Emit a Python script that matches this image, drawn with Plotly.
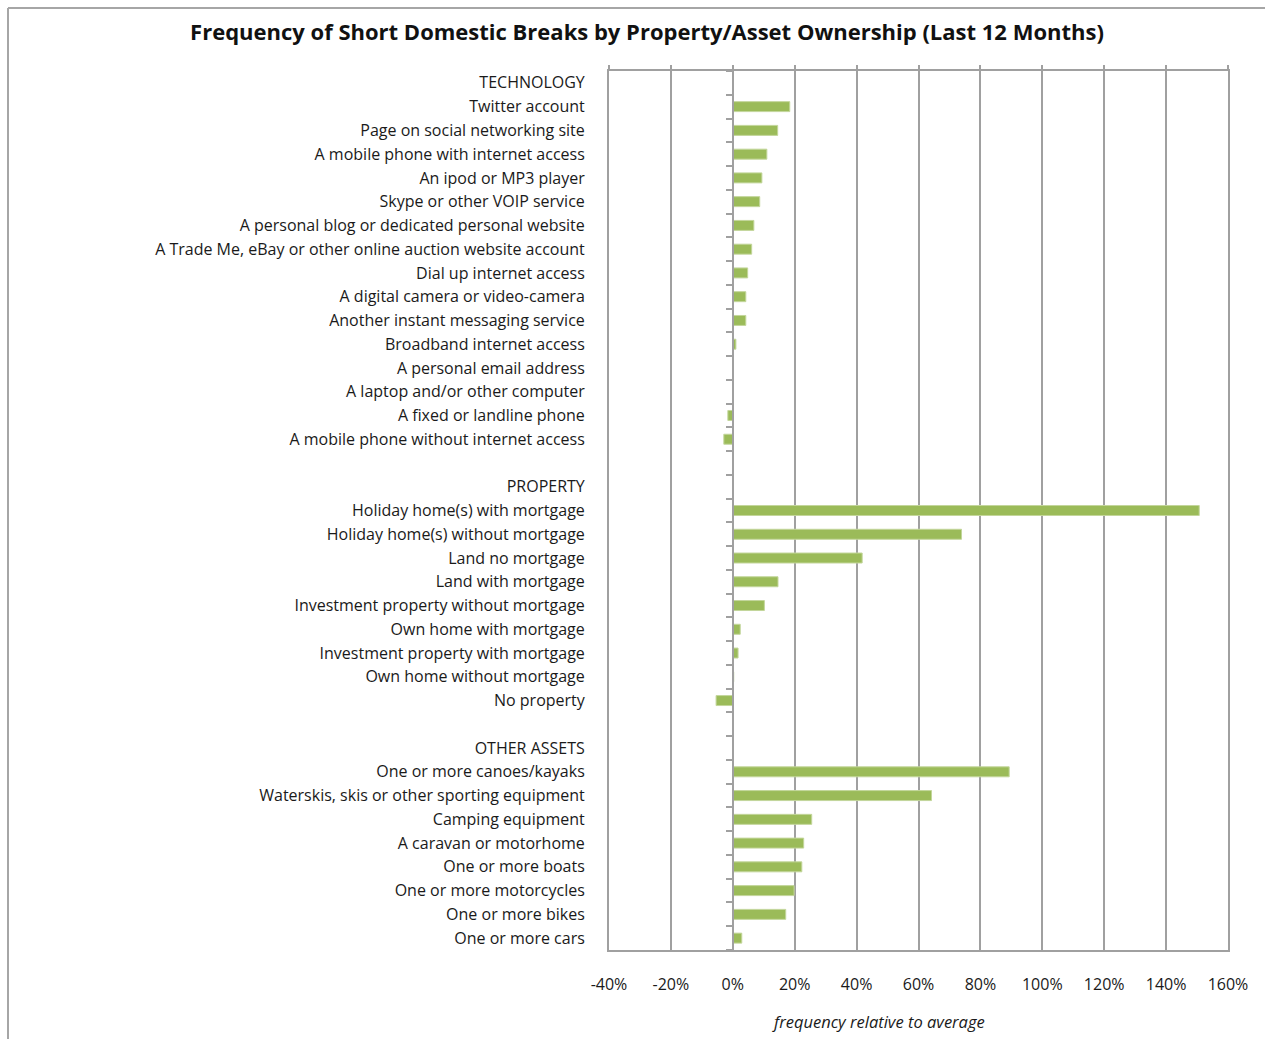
import plotly.graph_objects as go

# ---- data ----
categories = [
    "TECHNOLOGY",
    "Twitter account",
    "Page on social networking site",
    "A mobile phone with internet access",
    "An ipod or MP3 player",
    "Skype or other VOIP service",
    "A personal blog or dedicated personal website",
    "A Trade Me, eBay or other online auction website account",
    "Dial up internet access",
    "A digital camera or video-camera",
    "Another instant messaging service",
    "Broadband internet access",
    "A personal email address",
    "A laptop and/or other computer",
    "A fixed or landline phone",
    "A mobile phone without internet access",
    "",
    "PROPERTY",
    "Holiday home(s) with mortgage",
    "Holiday home(s) without mortgage",
    "Land no mortgage",
    "Land with mortgage",
    "Investment property without mortgage",
    "Own home with mortgage",
    "Investment property with mortgage",
    "Own home without mortgage",
    "No property",
    "",
    "OTHER ASSETS",
    "One or more canoes/kayaks",
    "Waterskis, skis or other sporting equipment",
    "Camping equipment",
    "A caravan or motorhome",
    "One or more boats",
    "One or more motorcycles",
    "One or more bikes",
    "One or more cars",
]
values = [
    None,
    18.4, 14.5, 11.0, 9.4, 8.7, 6.8, 6.1, 4.8, 4.2, 4.2, 1.0, 0.2, 0.1, -1.6, -2.9,
    None,
    None,
    150.7, 73.9, 41.8, 14.6, 10.2, 2.4, 1.7, 0.3, -5.4,
    None,
    None,
    89.3, 64.2, 25.5, 22.9, 22.3, 19.8, 17.1, 2.9,
]
x_ticks = [-40, -20, 0, 20, 40, 60, 80, 100, 120, 140, 160]
x_tick_labels = ["-40%", "-20%", "0%", "20%", "40%", "60%", "80%", "100%", "120%", "140%", "160%"]

title_text = "Frequency of Short Domestic Breaks by Property/Asset Ownership (Last 12 Months)"
x_title = "frequency relative to average"

# ---- figure ----
positions = list(range(len(categories)))
boundaries = [p - 0.5 for p in positions] + [positions[-1] + 0.5]

GRID = "#a0a0a0"
GREEN = "#9bbb59"
FONT = "Open Sans"

W, H = 1265, 1039
L, R, T, B = 609, 1265 - 1228, 71, 1039 - 950

fig = go.Figure()
fig.add_trace(go.Bar(
    x=values, y=positions, orientation="h",
    marker=dict(color=GREEN, line=dict(color="#c3d69b", width=1)),
    width=0.42, hoverinfo="skip",
))
# invisible helper trace to carry the secondary axes (top ticks, zero-axis ticks)
fig.add_trace(go.Scatter(
    x=[x_ticks[0], x_ticks[-1]], y=[positions[0], positions[-1]],
    xaxis="x2", yaxis="y2", mode="lines",
    line=dict(color="rgba(0,0,0,0)"), hoverinfo="skip", showlegend=False,
))

xr = [x_ticks[0], x_ticks[-1]]
yr = [positions[-1] + 0.5, positions[0] - 0.5]

fig.update_layout(
    width=W, height=H,
    margin=dict(l=L, r=R, t=T, b=B),
    paper_bgcolor="white", plot_bgcolor="white",
    showlegend=False,
    font=dict(family=FONT, size=16, color="#1a1a1a"),
    title=dict(
        text="<b>" + title_text + "</b>",
        x=647 / W, xanchor="center", xref="container",
        y=1 - 32 / H, yanchor="middle", yref="container",
        font=dict(family=FONT, size=22, color="#111111"),
    ),
    xaxis=dict(
        range=xr, tickvals=x_ticks, ticktext=x_tick_labels,
        showgrid=True, gridcolor=GRID, gridwidth=2,
        showline=True, linecolor=GRID, linewidth=2, mirror=True,
        zeroline=False, ticks="", ticklabelstandoff=19,
        tickfont=dict(family=FONT, size=16, color="#1a1a1a"),
        fixedrange=True,
    ),
    xaxis2=dict(
        range=xr, overlaying="x", side="top", anchor="y",
        tickvals=x_ticks, showticklabels=False, ticks="outside",
        ticklen=5, tickwidth=2, tickcolor=GRID,
        showgrid=False, zeroline=False, showline=False,
    ),
    yaxis=dict(
        range=yr, tickvals=positions, ticktext=categories,
        showgrid=False, zeroline=False,
        showline=True, linecolor=GRID, linewidth=2, mirror=True,
        ticks="", ticklabelstandoff=19,
        tickfont=dict(family=FONT, size=16, color="#1a1a1a"),
    ),
    yaxis2=dict(
        range=yr, overlaying="y", anchor="free",
        position=(0 - xr[0]) / (xr[1] - xr[0]),
        tickvals=boundaries, showticklabels=False, ticks="outside",
        ticklen=6, tickwidth=2, tickcolor=GRID,
        showline=True, linecolor=GRID, linewidth=2,
        showgrid=False, zeroline=False,
    ),
    annotations=[dict(
        text="<i>" + x_title + "</i>",
        xref="paper", yref="paper",
        x=(878 - L) / (W - L - R), y=-(1022 - (H - B)) / (H - T - B),
        xanchor="center", yanchor="middle", showarrow=False,
        font=dict(family=FONT, size=16.5, color="#1a1a1a"),
    )],
)

# chart-area border (left and top edges visible)
pw, ph = W - L - R, H - T - B
def px_x(p):
    return (p - L) / pw
def px_y(p):
    return (H - B - p) / ph
fig.add_shape(type="line", xref="paper", yref="paper",
              x0=px_x(8), x1=px_x(8), y0=px_y(8), y1=px_y(H + 2),
              line=dict(color="#a6a6a6", width=2))
fig.add_shape(type="line", xref="paper", yref="paper",
              x0=px_x(8), x1=px_x(W + 2), y0=px_y(8), y1=px_y(8),
              line=dict(color="#a6a6a6", width=2))

fig.write_html("out.html")
